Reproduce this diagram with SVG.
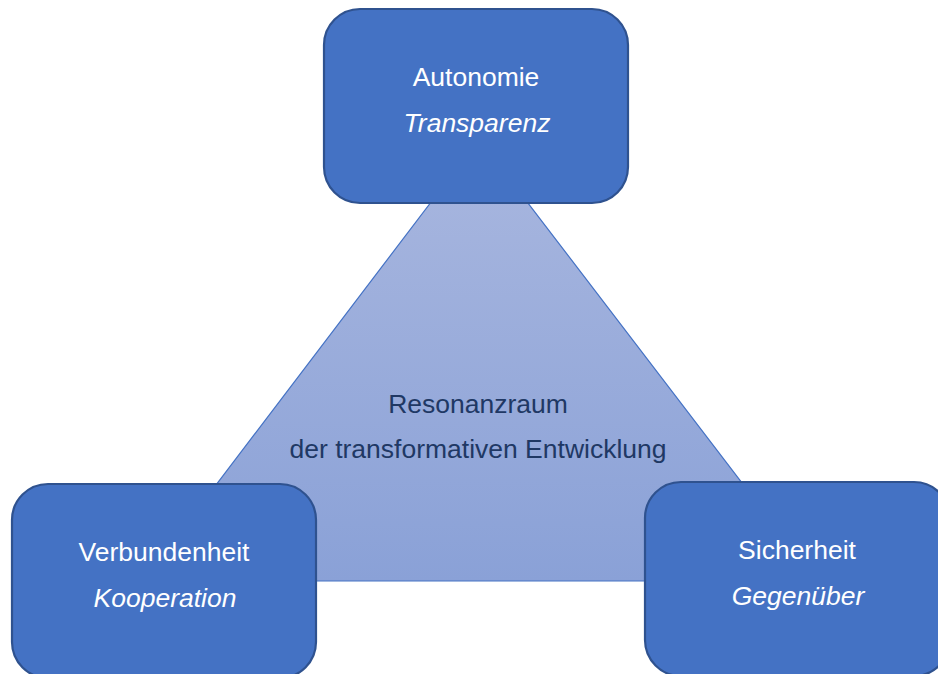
<svg xmlns="http://www.w3.org/2000/svg" width="938" height="674" viewBox="0 0 938 674">
  <defs>
    <linearGradient id="triFill" x1="0" y1="0" x2="0" y2="1">
      <stop offset="0" stop-color="#A9B7DF"/>
      <stop offset="1" stop-color="#8AA1D7"/>
    </linearGradient>
    <style>
      .box { fill: #4472C4; stroke: #2F528F; stroke-width: 2.2; }
      .lbl { font-family: "Liberation Sans", Arial, sans-serif; font-size: 26.5px; fill: #FFFFFF; text-anchor: middle; }
      .it { font-style: italic; }
      .mid { font-family: "Liberation Sans", Arial, sans-serif; font-size: 26.5px; fill: #203864; text-anchor: middle; }
    </style>
  </defs>

  <rect width="938" height="674" fill="#FFFFFF"/>

  <!-- central triangle -->
  <g id="resonanzraum">
    <polygon points="479,139 143,581 817,581" fill="url(#triFill)" stroke="#4472C4" stroke-width="1.2"/>
    <text class="mid" x="478" y="413">Resonanzraum</text>
    <text class="mid" x="478" y="458">der transformativen Entwicklung</text>
  </g>

  <g id="connectors"></g>

  <g id="autonomie">
    <rect class="box" x="324" y="9" width="304" height="194" rx="36" ry="36"/>
    <text class="lbl" x="476" y="86">Autonomie</text>
    <text class="lbl it" x="477" y="132">Transparenz</text>
  </g>

  <g id="verbundenheit">
    <rect class="box" x="12" y="484" width="304" height="194" rx="36" ry="36"/>
    <text class="lbl" x="164" y="561">Verbundenheit</text>
    <text class="lbl it" x="165" y="607">Kooperation</text>
  </g>

  <g id="sicherheit">
    <rect class="box" x="645" y="482" width="305" height="194" rx="36" ry="36"/>
    <text class="lbl" x="797" y="559">Sicherheit</text>
    <text class="lbl it" x="798" y="605">Gegenüber</text>
  </g>
</svg>
